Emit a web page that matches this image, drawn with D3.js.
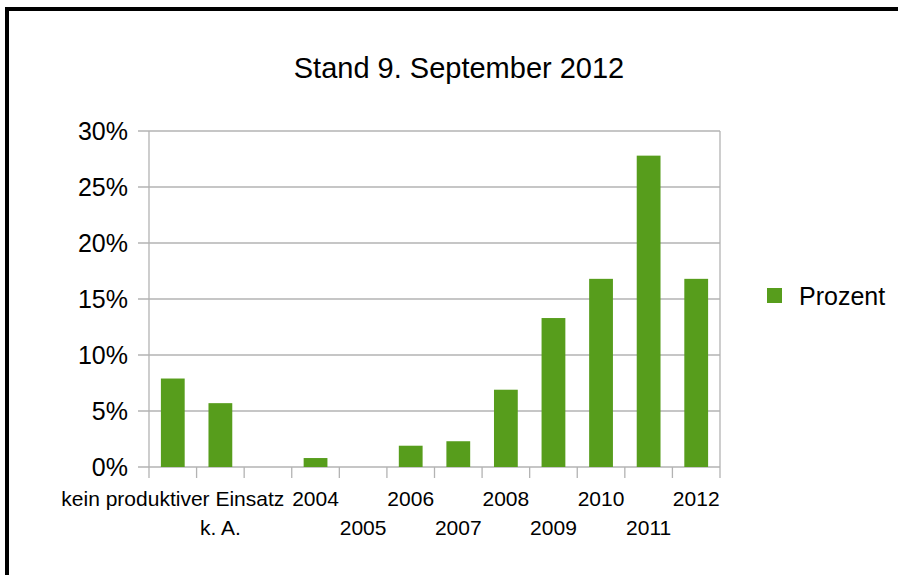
<!DOCTYPE html>
<html><head><meta charset="utf-8">
<script src="https://cdn.jsdelivr.net/npm/d3@7"></script>
<style>html,body{margin:0;padding:0;background:#fff;overflow:hidden}text{font-family:"Liberation Sans",Arial,sans-serif;fill:#000}</style>
</head><body>
<script>
const categories = ["kein produktiver Einsatz","k. A.","","2004","2005","2006","2007","2008","2009","2010","2011","2012"];
const values = [7.9,5.7,0,0.8,0,1.9,2.3,6.9,13.3,16.8,27.8,16.8];
const yTicks = [0,5,10,15,20,25,30];
const title = "Stand 9. September 2012";
const seriesName = "Prozent";

const W=898,H=575;
const svg=d3.select("body").append("svg").attr("width",W).attr("height",H);
svg.append("rect").attr("width",W).attr("height",H).attr("fill","#fff");
// outer frame
svg.append("rect").attr("x",7).attr("y",9).attr("width",W+20).attr("height",H+20)
  .attr("fill","none").attr("stroke","#000").attr("stroke-width",4);

const L=149,R=720,T=131,B=467;
const x=d3.scaleBand().domain(d3.range(categories.length)).range([L,R]).paddingInner(0.5).paddingOuter(0.25);
const xb=d3.scaleBand().domain(d3.range(categories.length)).range([L,R]);
const y=d3.scaleLinear().domain([0,30]).range([B,T]);
const grey="#b3b3b3";

// gridlines
svg.append("g").selectAll("line").data(yTicks).join("line")
  .attr("x1",L-11).attr("x2",R).attr("y1",d=>y(d)).attr("y2",d=>y(d))
  .attr("stroke",grey).attr("stroke-width",1.3);
// y axis line + right wall
svg.append("line").attr("x1",L).attr("x2",L).attr("y1",T).attr("y2",B+11).attr("stroke",grey).attr("stroke-width",1.3);
svg.append("line").attr("x1",R).attr("x2",R).attr("y1",T).attr("y2",B+11).attr("stroke",grey).attr("stroke-width",1.3);
// x ticks
svg.append("g").selectAll("line").data(d3.range(1,categories.length)).join("line")
  .attr("x1",d=>xb(d)).attr("x2",d=>xb(d)).attr("y1",B).attr("y2",B+11)
  .attr("stroke",grey).attr("stroke-width",1.3);

// y labels
svg.append("g").selectAll("text").data(yTicks).join("text")
  .attr("x",128).attr("y",d=>y(d)+9).attr("text-anchor","end")
  .attr("font-size",25).text(d=>d+"%");

// bars
svg.append("g").selectAll("rect").data(values).join("rect")
  .attr("x",(d,i)=>x(i)).attr("width",x.bandwidth())
  .attr("y",d=>y(d)).attr("height",d=>B-y(d)).attr("fill","#579d1c");

// x labels, staggered over non-empty labels
let k=0;
const labs=categories.map((c,i)=>({c,i,row:c?(k++)%2:0}));
svg.append("g").selectAll("text").data(labs.filter(d=>d.c)).join("text")
  .attr("x",d=>xb(d.i)+xb.bandwidth()/2).attr("y",d=>d.row?535:506)
  .attr("text-anchor","middle").attr("font-size",21).text(d=>d.c);

// title
svg.append("text").attr("x",459).attr("y",78).attr("text-anchor","middle").attr("font-size",29).text(title);

// legend
svg.append("rect").attr("x",767).attr("y",288).attr("width",15).attr("height",15).attr("fill","#579d1c");
svg.append("text").attr("x",799).attr("y",305).attr("font-size",25).text(seriesName);
</script>
</body></html>
